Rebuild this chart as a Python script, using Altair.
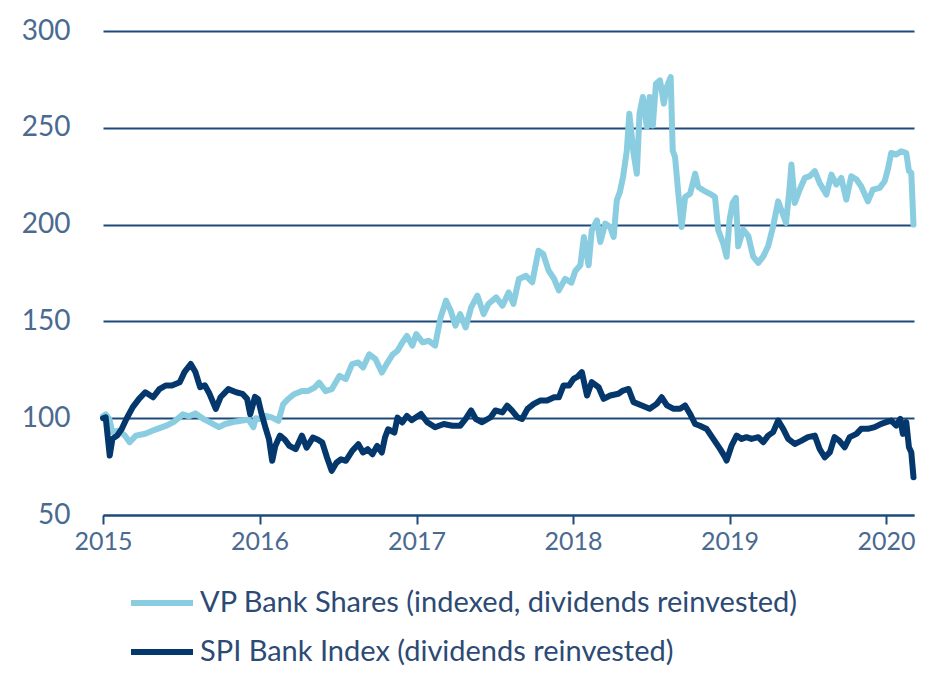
import altair as alt
import pandas as pd

# ---- data (decimal years, index values) ----
vp_t = [2015.0, 2015.017, 2015.04, 2015.06, 2015.10, 2015.14, 2015.17, 2015.21, 2015.27, 2015.33,
        2015.40, 2015.45, 2015.51, 2015.55, 2015.59, 2015.64, 2015.68, 2015.74, 2015.78, 2015.83,
        2015.89, 2015.93, 2015.96, 2015.975, 2016.0, 2016.04, 2016.08, 2016.12, 2016.15, 2016.18,
        2016.22, 2016.27, 2016.31, 2016.35, 2016.38, 2016.42, 2016.46, 2016.51, 2016.55, 2016.59,
        2016.63, 2016.66, 2016.70, 2016.74, 2016.78, 2016.81, 2016.85, 2016.88, 2016.91, 2016.94,
        2016.975, 2017.0, 2017.04, 2017.08, 2017.12, 2017.155, 2017.19, 2017.22, 2017.25, 2017.28,
        2017.315, 2017.35, 2017.39, 2017.43, 2017.46, 2017.51, 2017.55, 2017.59, 2017.62, 2017.655,
        2017.70, 2017.74, 2017.78, 2017.81, 2017.845, 2017.88, 2017.91, 2017.95, 2017.99, 2018.015,
        2018.047, 2018.07, 2018.10, 2018.12, 2018.153, 2018.175, 2018.206, 2018.238, 2018.26, 2018.28,
        2018.30, 2018.32, 2018.344, 2018.36, 2018.387, 2018.408, 2018.425, 2018.446, 2018.472, 2018.49,
        2018.51, 2018.53, 2018.556, 2018.58, 2018.599, 2018.624, 2018.637, 2018.652, 2018.673, 2018.694,
        2018.716, 2018.748, 2018.78, 2018.80, 2018.832, 2018.875, 2018.907, 2018.928, 2018.96, 2018.981,
        2019.0, 2019.02, 2019.04, 2019.055, 2019.087, 2019.12, 2019.15, 2019.183, 2019.215, 2019.246,
        2019.278, 2019.31, 2019.33, 2019.36, 2019.38, 2019.395, 2019.416, 2019.448, 2019.48, 2019.512,
        2019.544, 2019.575, 2019.618, 2019.65, 2019.682, 2019.713, 2019.745, 2019.777, 2019.81, 2019.84,
        2019.883, 2019.915, 2019.958, 2019.99, 2020.01, 2020.032, 2020.064, 2020.096, 2020.128, 2020.145,
        2020.16, 2020.174]
vp_v = [101, 102, 99.7, 92.8, 93.6, 91, 87.6, 91, 92, 94,
        96, 98, 102, 101, 102.5, 99.7, 98, 95.4, 97, 98,
        98.8, 99.3, 95.4, 100, 99.6, 101.2, 100.3, 98.6, 107.2, 109.8,
        112.4, 114.1, 114.1, 115.8, 118.4, 114, 115, 121.9, 120.2, 127.9,
        128.8, 126.2, 133, 130.5, 123.6, 127.9, 133, 134.8, 139, 142.5,
        137.5, 143.5, 139.2, 140, 137.5, 152, 160.7, 155.5, 147.8, 153.8,
        146.9, 157.2, 163.3, 153.8, 159, 162.4, 158.1, 165, 159, 171.9,
        173.6, 170.2, 186.5, 184.8, 176.2, 171.9, 166, 172, 170, 176,
        179, 193.6, 179, 197, 202.2, 191, 200.5, 198.8, 193.6, 212.6,
        216.9, 224.6, 238.3, 257.3, 236.7, 226.3, 257.3, 265.9, 250.4, 265.9,
        251.2, 272.7, 274.5, 262.5, 271, 276.2, 238.3, 234.8, 215.9, 198.8,
        214.2, 215.9, 226.3, 219.4, 217.7, 215.9, 214.2, 197, 190.1, 183.4,
        202.6, 211.2, 213.8, 188.8, 197.4, 194, 183.6, 180.2, 183.6, 188.8,
        199.1, 212, 207.7, 200.9, 216.4, 231, 211.2, 218.1, 224.1, 225,
        227.6, 221.5, 215.5, 225.8, 220.7, 224.1, 212.9, 225, 223.3, 219.8,
        212, 218.1, 219, 222.4, 228.4, 237, 236.2, 237.9, 237, 227.6,
        226.7, 200]

spi_t = [2015.0, 2015.017, 2015.043, 2015.06, 2015.09, 2015.12, 2015.15, 2015.19, 2015.23, 2015.27,
         2015.32, 2015.36, 2015.40, 2015.44, 2015.49, 2015.52, 2015.56, 2015.59, 2015.62, 2015.65,
         2015.68, 2015.72, 2015.75, 2015.80, 2015.85, 2015.89, 2015.92, 2015.94, 2015.97, 2015.99,
         2016.01, 2016.04, 2016.06, 2016.08, 2016.10, 2016.13, 2016.16, 2016.19, 2016.23, 2016.27,
         2016.30, 2016.34, 2016.37, 2016.40, 2016.43, 2016.46, 2016.49, 2016.52, 2016.55, 2016.59,
         2016.63, 2016.66, 2016.69, 2016.72, 2016.75, 2016.78, 2016.80, 2016.82, 2016.86, 2016.88,
         2016.91, 2016.94, 2016.97, 2017.03, 2017.07, 2017.12, 2017.175, 2017.23, 2017.28, 2017.315,
         2017.35, 2017.38, 2017.42, 2017.475, 2017.505, 2017.55, 2017.58, 2017.61, 2017.645, 2017.675,
         2017.71, 2017.75, 2017.79, 2017.835, 2017.88, 2017.91, 2017.94, 2017.975, 2018.004, 2018.03,
         2018.057, 2018.09, 2018.12, 2018.164, 2018.196, 2018.238, 2018.29, 2018.32, 2018.355, 2018.387,
         2018.44, 2018.49, 2018.535, 2018.567, 2018.60, 2018.64, 2018.684, 2018.716, 2018.748, 2018.78,
         2018.81, 2018.854, 2018.896, 2018.94, 2018.97, 2018.981, 2019.013, 2019.045, 2019.077, 2019.108,
         2019.14, 2019.183, 2019.215, 2019.246, 2019.278, 2019.31, 2019.342, 2019.374, 2019.416, 2019.46,
         2019.50, 2019.544, 2019.575, 2019.607, 2019.64, 2019.67, 2019.70, 2019.735, 2019.767, 2019.81,
         2019.84, 2019.883, 2019.926, 2019.968, 2020.0, 2020.032, 2020.064, 2020.09, 2020.106, 2020.128,
         2020.145, 2020.16, 2020.174]
spi_v = [100, 100.5, 80.7, 89.3, 91, 94.5, 99.7, 105.7, 110, 113.4,
         110.8, 115, 116.9, 116.9, 118.6, 123.8, 128, 123.8, 116, 117,
         112.6, 104.8, 110.8, 115, 113.4, 112.6, 110, 102, 111, 109.8,
         103, 94.3, 89, 78, 85.7, 91, 89, 85.7, 84, 91,
         84.8, 90, 89, 87.4, 79.7, 72.8, 77, 78.8, 78, 83,
         86.6, 82.3, 84, 81.4, 85.7, 82.3, 90, 94.3, 92.6, 100.3,
         97.8, 101.2, 99, 102.2, 97.9, 95.3, 97, 96.1, 96.1, 99.6,
         104, 99.6, 97.9, 100.5, 104, 103, 106.5, 104, 100.5, 99.6,
         104.8, 107.4, 109.1, 109.1, 110.8, 110.8, 116.9, 116.9, 120.3, 121.5,
         123.8, 111.7, 118.6, 116, 110, 111.7, 112.6, 114.3, 115.1, 108.3,
         106.6, 104.9, 107.4, 110.8, 106.6, 104.9, 104.9, 106.6, 102.2, 97,
         96.1, 94.4, 89.3, 84, 80, 78.1, 85.9, 91, 89.3, 90.2,
         89.3, 90.2, 87.6, 91, 92.8, 98.8, 94.5, 89.3, 86.7, 88.4,
         90.2, 91, 84.1, 79.8, 82.4, 90.2, 88.4, 85, 90.2, 91.9,
         94.5, 94.5, 95.4, 97.1, 98, 98.8, 96.2, 99.7, 91.9, 98,
         85, 82.4, 69.5]

VP = "VP Bank Shares (indexed, dividends reinvested)"
SPI = "SPI Bank Index (dividends reinvested)"
series_names = [VP, SPI]
series_colors = ["#8acde0", "#04386c"]
year_ticks = [2015, 2016, 2017, 2018, 2019, 2020]
y_ticks = [50, 100, 150, 200, 250, 300]

GRID = "#1d4a7a"
LABEL = "#4a6a90"
FONT = "Lato"


def to_dates(ts):
    base = pd.Timestamp("2015-01-01")
    return [(base + pd.Timedelta(days=(t - 2015) * 365.25)).strftime("%Y-%m-%dT%H:%M:%S") for t in ts]


df = pd.concat([
    pd.DataFrame({"date": to_dates(vp_t), "value": vp_v, "series": VP}),
    pd.DataFrame({"date": to_dates(spi_t), "value": spi_v, "series": SPI}),
], ignore_index=True)

x_enc = alt.X(
    "date:T",
    scale=alt.Scale(domain=[alt.DateTime(year=2015, month=1, date=1),
                            alt.DateTime(year=2020, month=3, date=6)], nice=False),
    axis=alt.Axis(
        values=[alt.DateTime(year=y, month=1, date=1) for y in year_ticks],
        format="%Y", title=None, grid=False, labelFlush=False, labelOverlap=False,
        domainColor=GRID, domainWidth=2, tickColor=GRID, tickWidth=2, tickSize=9,
        labelPadding=5, labelFontSize=25, labelColor=LABEL, labelFont=FONT,
    ),
)
y_enc = alt.Y(
    "value:Q",
    scale=alt.Scale(domain=[50, 300], nice=False, zero=False),
    axis=alt.Axis(
        values=y_ticks, title=None, domain=False, ticks=False,
        gridColor=GRID, gridWidth=2, gridOpacity=1,
        labelPadding=33, labelFontSize=28, labelColor=LABEL, labelFont=FONT,
    ),
)
color_enc = alt.Color(
    "series:N",
    scale=alt.Scale(domain=series_names, range=series_colors),
    legend=alt.Legend(
        orient="none", legendX=25, legendY=538, title=None, direction="vertical",
        symbolType="stroke", symbolSize=3844, symbolStrokeWidth=6,
        labelFont=FONT, labelFontSize=29, labelColor="#2c4a74", labelLimit=1000,
        labelOffset=4, rowPadding=-12, padding=0,
    ),
)

base = alt.Chart(df).mark_line(strokeWidth=6, strokeJoin="round", strokeCap="round").encode(
    x=x_enc, y=y_enc, color=color_enc, order="date:T"
)

chart = alt.layer(
    base.transform_filter(alt.datum.series == VP),
    base.transform_filter(alt.datum.series == SPI),
).properties(
    width=811, height=484,
    autosize=alt.AutoSizeParams(type="none"),
    padding={"left": 95, "top": 23, "right": 4, "bottom": 152},
    background="white",
).configure_view(stroke=None)

chart.save("out.html", embed_options={"renderer": "svg", "actions": False})
